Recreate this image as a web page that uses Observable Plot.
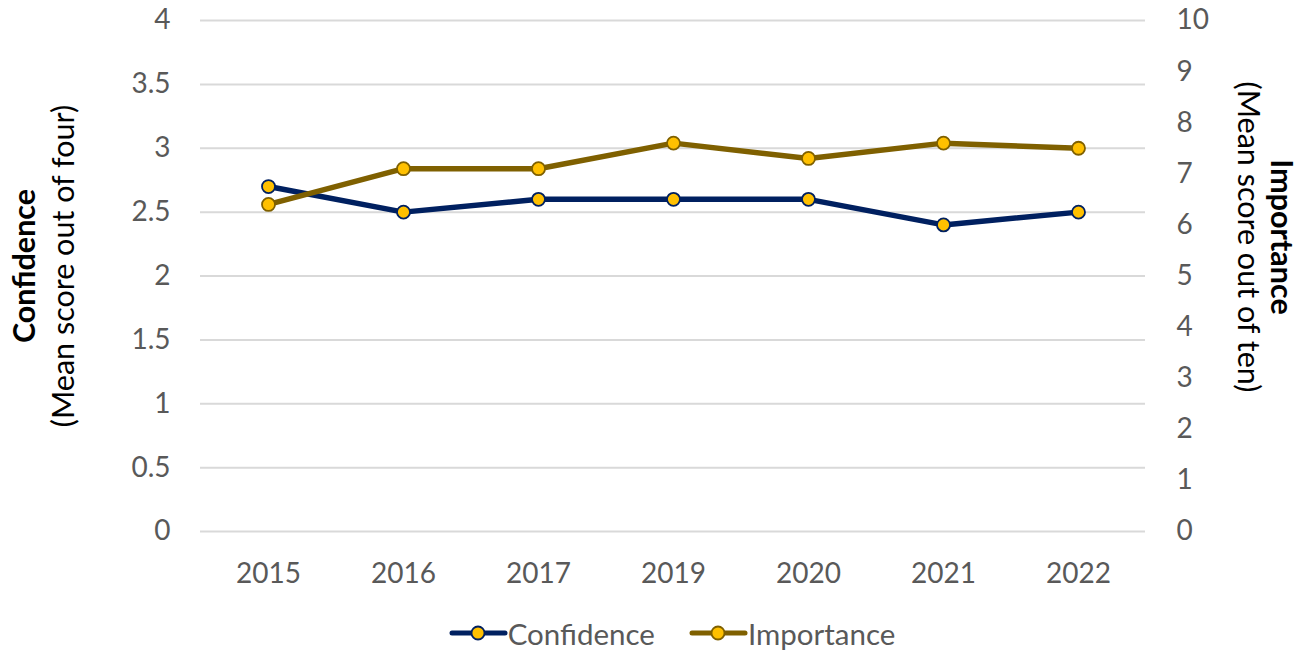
<!DOCTYPE html>
<html>
<head>
<meta charset="utf-8">
<script src="https://cdn.jsdelivr.net/npm/d3@7"></script>
<script src="https://cdn.jsdelivr.net/npm/@observablehq/plot@0.6"></script>
<style>
  body { margin: 0; background: #fff; font-family: Lato, "Open Sans", sans-serif; }
  #chart { width: 1304px; }
  .legend { display: flex; justify-content: center; align-items: center; gap: 34px; padding-left: 40px; height: 56px; font-size: 29.5px; color: #595959; }
  .legend span { display: flex; align-items: center; }
</style>
</head>
<body>
<div id="chart"></div>
<script>
const years = ["2015", "2016", "2017", "2019", "2020", "2021", "2022"];
const confidence = [2.7, 2.5, 2.6, 2.6, 2.6, 2.4, 2.5];
const importance = [6.4, 7.1, 7.1, 7.6, 7.3, 7.6, 7.5];
const leftTicks = [0, 0.5, 1, 1.5, 2, 2.5, 3, 3.5, 4];
const rightTicks = [0, 1, 2, 3, 4, 5, 6, 7, 8, 9, 10];
const seriesNames = ["Confidence", "Importance"];
const lineColors = ["#002060", "#7F6000"];
const markerFill = "#FFC000";
const ratio = 4 / 10; // right axis (0-10) mapped onto left axis (0-4)

const confData = years.map((y, i) => ({year: y, value: confidence[i]}));
const impData = years.map((y, i) => ({year: y, value: importance[i]}));

const plot = Plot.plot({
  width: 1304,
  height: 605,
  marginTop: 20,
  marginBottom: 74,
  marginLeft: 200,
  marginRight: 159,
  style: {fontFamily: "Lato, 'Open Sans', sans-serif", fontSize: "28px", color: "#595959", background: "#fff"},
  x: {type: "point", domain: years, padding: 0.5},
  y: {domain: [0, 4]},
  marks: [
    Plot.gridY(leftTicks, {stroke: "#d9d9d9", strokeOpacity: 1, strokeWidth: 2}),
    Plot.axisX({tickSize: 0, tickPadding: 32, label: null, fill: "#595959", fontSize: 28}),
    Plot.axisY(leftTicks, {anchor: "left", tickFormat: d => String(d), tickSize: 0, tickPadding: 30, label: null, fill: "#595959", fontSize: 28}),
    Plot.axisY(rightTicks, {anchor: "right", y: d => d * ratio, text: d => String(d), tickSize: 0, tickPadding: 31, label: null, fill: "#595959", fontSize: 28}),
    Plot.line(confData, {x: "year", y: "value", stroke: lineColors[0], strokeWidth: 5.5}),
    Plot.dot(confData, {x: "year", y: "value", r: 6.5, fill: markerFill, stroke: lineColors[0], strokeWidth: 1.8}),
    Plot.line(impData, {x: "year", y: d => d.value * ratio, stroke: lineColors[1], strokeWidth: 5.5}),
    Plot.dot(impData, {x: "year", y: d => d.value * ratio, r: 6.5, fill: markerFill, stroke: lineColors[1], strokeWidth: 1.8})
  ]
});

const svg = d3.select(plot);
const lt = svg.append("text")
  .attr("transform", "translate(53,266) rotate(-90)")
  .attr("text-anchor", "middle")
  .attr("fill", "#000")
  .style("font-size", "30.5px");
lt.append("tspan").attr("x", 0).attr("dy", "-0.6em").attr("font-weight", "bold").text("Confidence");
lt.append("tspan").attr("x", 0).attr("dy", "1.3em").text("(Mean score out of four)");

const rt = svg.append("text")
  .attr("transform", "translate(1256,237) rotate(90)")
  .attr("text-anchor", "middle")
  .attr("fill", "#000")
  .style("font-size", "30.5px");
rt.append("tspan").attr("x", 0).attr("dy", "-0.5em").attr("font-weight", "bold").text("Importance");
rt.append("tspan").attr("x", 0).attr("dy", "1.1em").text("(Mean score out of ten)");

document.getElementById("chart").appendChild(plot);

const legend = d3.select("#chart").append("div").attr("class", "legend");
seriesNames.forEach((name, i) => {
  const item = legend.append("span");
  const s = item.append("svg").attr("width", 59).attr("height", 20);
  s.append("line").attr("x1", 3).attr("x2", 56).attr("y1", 10).attr("y2", 10)
    .attr("stroke", lineColors[i]).attr("stroke-width", 5).attr("stroke-linecap", "round");
  s.append("circle").attr("cx", 29).attr("cy", 10).attr("r", 6.5)
    .attr("fill", markerFill).attr("stroke", lineColors[i]).attr("stroke-width", 1.8);
  item.append("span").text(name);
});
</script>
</body>
</html>
